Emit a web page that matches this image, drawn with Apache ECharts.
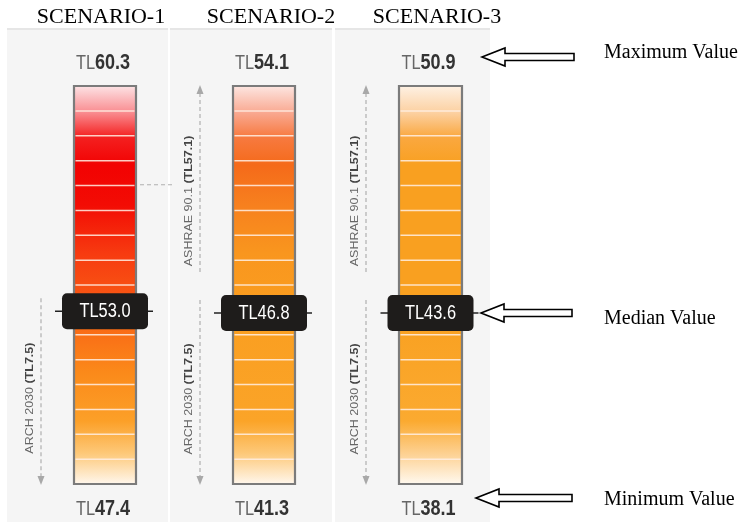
<!DOCTYPE html>
<html>
<head>
<meta charset="utf-8">
<script src="https://cdn.jsdelivr.net/npm/echarts@6/dist/echarts.min.js"></script>
<style>
html,body{margin:0;padding:0;background:#fff;}
#chart{width:739px;height:522px;}
</style>
</head>
<body>
<div id="chart"></div>
<script>
// ---- data ----
const scenarios = ['SCENARIO-1', 'SCENARIO-2', 'SCENARIO-3'];
const maxValues = [60.3, 54.1, 50.9];
const medianValues = [53.0, 46.8, 43.6];
const minValues = [47.4, 41.3, 38.1];
const ashraeValue = 57.1;
const archValue = 7.5;
const ashraeLabel = ['ASHRAE 90.1 ', '(TL57.1)'];
const archLabel = ['ARCH 2030 ', '(TL7.5)'];
const sideLabels = ['Maximum Value', 'Median Value', 'Minimum Value'];

// ---- styling ----
const gradients = [
  [[0,'#fde6e8'],[0.07,'#f98a8e'],[0.13,'#f42020'],[0.2,'#f20202'],[0.3,'#f30c04'],[0.42,'#f73a10'],[0.57,'#f96014'],[0.72,'#fb8a1a'],[0.84,'#fca028'],[0.92,'#fdc878'],[1,'#fff8f0']],
  [[0,'#fde8e4'],[0.07,'#f9a890'],[0.13,'#f77a40'],[0.2,'#f56a1a'],[0.3,'#f7801e'],[0.42,'#f9961e'],[0.57,'#fa9e20'],[0.84,'#fba428'],[0.92,'#fdc878'],[1,'#fff8f0']],
  [[0,'#fef2e6'],[0.07,'#fcd0a0'],[0.13,'#faa840'],[0.2,'#f9a020'],[0.57,'#f9a020'],[0.84,'#fbaa30'],[0.92,'#fdd090'],[1,'#fffaf2']]
];
const grids = [
  {left: 74, width: 62},
  {left: 233, width: 62},
  {left: 399, width: 63}
];
const SANS = '"Liberation Sans",Arial,sans-serif';
const SERIF = '"Liberation Serif","Times New Roman",serif';
const annoColor = '#666';

function arrowHead(x, y, dir) {
  return {type: 'polygon', shape: {points: [[x - 3.5, y - dir * 9], [x + 3.5, y - dir * 9], [x, y]]}, style: {fill: '#a8a8a8'}};
}

function makeRender(idx) {
  return function (params, api) {
    const vMin = api.value(1), vMax = api.value(2), vMed = api.value(3);
    const top = api.coord([0, vMax]);
    const bot = api.coord([0, vMin]);
    const med = api.coord([0, vMed]);
    const w = api.size([1, 0])[0];
    const cx = top[0];
    const x0 = cx - w / 2;
    const h = bot[1] - top[1];
    const children = [];
    children.push({
      type: 'rect',
      shape: {x: x0, y: top[1], width: w, height: h},
      style: {fill: new echarts.graphic.LinearGradient(0, 0, 0, 1, gradients[idx].map(s => ({offset: s[0], color: s[1]}))), stroke: '#7b7b7b', lineWidth: 2.2}
    });
    for (let k = 1; k < 16; k++) {
      const y = top[1] + h * k / 16;
      children.push({type: 'line', shape: {x1: x0 + 1.5, y1: y, x2: x0 + w - 1.5, y2: y}, style: {stroke: 'rgba(255,238,228,0.85)', lineWidth: 1.5}});
    }
    const rich = {
      a: {fontFamily: SANS, fontSize: 20, fill: '#666', fontWeight: 'normal'},
      b: {fontFamily: SANS, fontSize: 22, fill: '#333', fontWeight: 'bold'}
    };
    children.push({type: 'text', x: cx - 2, y: top[1] - 23, scaleX: 0.82, style: {text: '{a|TL}{b|' + vMax.toFixed(1) + '}', rich: rich, align: 'center', verticalAlign: 'middle'}});
    children.push({type: 'text', x: cx - 2, y: bot[1] + 25, scaleX: 0.82, style: {text: '{a|TL}{b|' + vMin.toFixed(1) + '}', rich: rich, align: 'center', verticalAlign: 'middle'}});
    // median marker
    children.push({type: 'line', shape: {x1: cx - 50, y1: med[1], x2: cx + 48, y2: med[1]}, style: {stroke: '#222', lineWidth: 1.6}});
    children.push({type: 'rect', shape: {x: cx - 43, y: med[1] - 18, width: 86, height: 36, r: 5}, style: {fill: '#1e1c1b'}});
    children.push({type: 'text', x: cx, y: med[1], scaleX: 0.82, style: {text: 'TL' + vMed.toFixed(1), fill: '#fff', font: '20px ' + SANS, align: 'center', verticalAlign: 'middle'}});
    // annotations
    const ax = x0 - 33, tx = x0 - 44;
    const annoRich = {a: {fontFamily: SANS, fontSize: 12.5, fill: annoColor}, b: {fontFamily: SANS, fontSize: 12.5, fill: '#444', fontWeight: 'bold'}};
    if (archValue < vMin) {
      const y1 = med[1] - 13, y2 = bot[1] + 1;
      children.push({type: 'line', shape: {x1: ax, y1: y1, x2: ax, y2: y2 - 8}, style: {stroke: '#b0b0b0', lineWidth: 1.2, lineDash: [4, 3]}});
      children.push(arrowHead(ax, y2, 1));
      children.push({type: 'text', x: tx, y: (med[1] + y2) / 2, rotation: Math.PI / 2, scaleY: 0.85,
        style: {text: '{a|' + archLabel[0] + '}{b|' + archLabel[1] + '}', align: 'center', verticalAlign: 'middle', rich: annoRich}});
    }
    if (ashraeValue > vMax) {
      const y1 = med[1] - 41, y2 = top[1] - 1;
      children.push({type: 'line', shape: {x1: ax, y1: y1, x2: ax, y2: y2 + 8}, style: {stroke: '#b0b0b0', lineWidth: 1.2, lineDash: [4, 3]}});
      children.push(arrowHead(ax, y2, -1));
      children.push({type: 'text', x: tx, y: (med[1] + y2) / 2 + 2, rotation: Math.PI / 2, scaleY: 0.85,
        style: {text: '{a|' + ashraeLabel[0] + '}{b|' + ashraeLabel[1] + '}', align: 'center', verticalAlign: 'middle', rich: annoRich}});
    } else {
      const ya = api.coord([0, ashraeValue])[1];
      children.push({type: 'line', shape: {x1: x0 + w + 4, y1: ya, x2: x0 + w + 38, y2: ya}, style: {stroke: '#b0b0b0', lineWidth: 1.2, lineDash: [4, 3]}});
    }
    return {type: 'group', children: children};
  };
}

function hollowArrow(tipX, y, endX) {
  const headX = tipX + 23;
  return {
    type: 'polygon',
    shape: {points: [[tipX, y], [headX, y - 9], [headX, y - 3.5], [endX, y - 3.5], [endX, y + 3.5], [headX, y + 3.5], [headX, y + 9]]},
    style: {fill: '#fff', stroke: '#000', lineWidth: 1.6}
  };
}

const chart = echarts.init(document.getElementById('chart'), null, {renderer: 'canvas'});
const titleX = [96, 266, 432];
const option = {
  animation: false,
  backgroundColor: '#fff',
  title: scenarios.map((s, i) => ({text: s, left: titleX[i], top: 1, textAlign: 'center',
    textStyle: {fontFamily: SERIF, fontSize: 22, fontWeight: 'normal', color: '#000'}})),
  graphic: [
    {type: 'rect', z: -10, shape: {x: 7, y: 28, width: 161, height: 494}, style: {fill: '#f5f5f5'}},
    {type: 'rect', z: -10, shape: {x: 170, y: 28, width: 162, height: 494}, style: {fill: '#f5f5f5'}},
    {type: 'rect', z: -10, shape: {x: 335, y: 28, width: 155, height: 494}, style: {fill: '#f5f5f5'}},
    {type: 'rect', z: -9, shape: {x: 7, y: 28, width: 161, height: 2}, style: {fill: '#e6e6e6'}},
    {type: 'rect', z: -9, shape: {x: 170, y: 28, width: 162, height: 2}, style: {fill: '#e6e6e6'}},
    {type: 'rect', z: -9, shape: {x: 335, y: 28, width: 155, height: 2}, style: {fill: '#e6e6e6'}},
    hollowArrow(482, 57, 574),
    hollowArrow(481, 313, 572),
    hollowArrow(476, 498, 572),
    {type: 'text', x: 604, y: 53, style: {text: sideLabels[0], font: '20px ' + SERIF, fill: '#000', verticalAlign: 'middle'}},
    {type: 'text', x: 604, y: 319, style: {text: sideLabels[1], font: '20px ' + SERIF, fill: '#000', verticalAlign: 'middle'}},
    {type: 'text', x: 604, y: 500, style: {text: sideLabels[2], font: '20px ' + SERIF, fill: '#000', verticalAlign: 'middle'}}
  ],
  grid: grids.map(g => ({left: g.left, width: g.width, top: 86, bottom: 38})),
  xAxis: scenarios.map((s, i) => ({type: 'category', gridIndex: i, data: [s], show: false})),
  yAxis: scenarios.map((s, i) => ({type: 'value', gridIndex: i, min: minValues[i], max: maxValues[i], show: false})),
  series: scenarios.map((s, i) => ({
    type: 'custom',
    xAxisIndex: i,
    yAxisIndex: i,
    renderItem: makeRender(i),
    encode: {x: 0, y: [1, 2, 3]},
    data: [[0, minValues[i], maxValues[i], medianValues[i]]]
  }))
};
chart.setOption(option);
</script>
</body>
</html>
